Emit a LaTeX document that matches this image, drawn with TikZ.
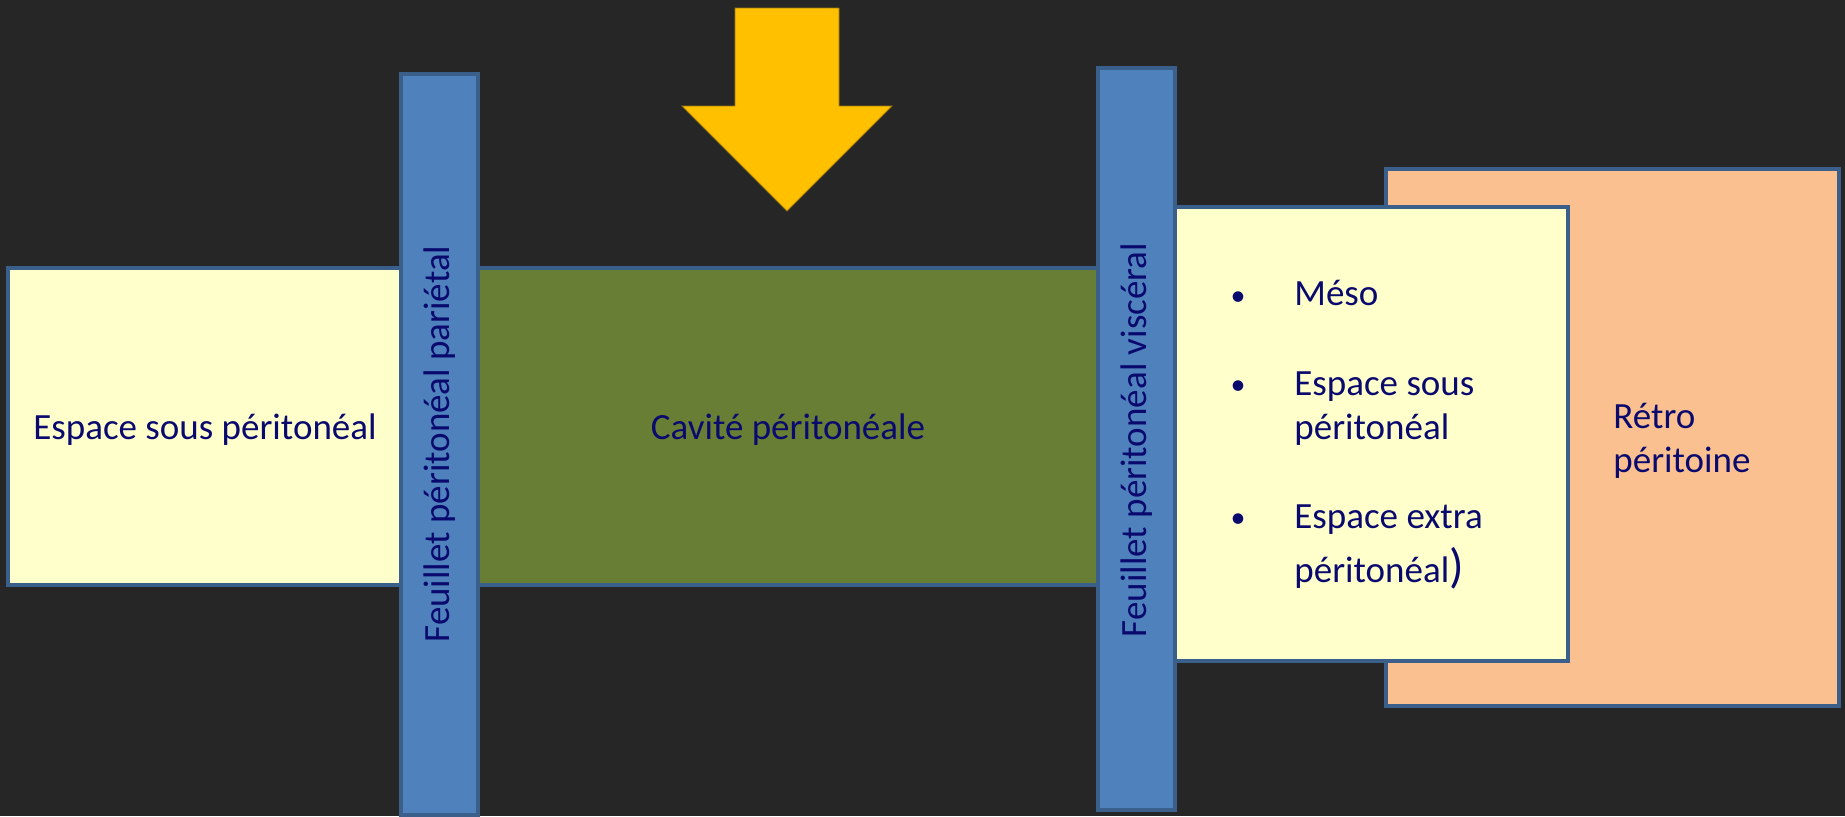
\documentclass[tikz,border=0pt]{standalone}
\usepackage{fontspec}
\setmainfont{Carlito}
\definecolor{bg}{HTML}{262626}
\definecolor{pale}{HTML}{FFFFCC}
\definecolor{olive}{HTML}{677E34}
\definecolor{barblue}{HTML}{4F81BD}
\definecolor{edge}{HTML}{3A5F8B}
\definecolor{peach}{HTML}{FAC090}
\definecolor{gold}{HTML}{FFC000}
\definecolor{golddark}{HTML}{9C7A10}
\definecolor{navy}{HTML}{0A0A6E}
\begin{document}
\begin{tikzpicture}[x=0.5pt,y=-0.5pt,
  boxdraw/.style={draw=edge,line width=2pt},
  lbl/.style={text=navy,font=\fontsize{18.5}{22}\selectfont,inner sep=0pt},
  bul/.style={text=navy,font=\fontsize{15}{18}\selectfont,inner sep=0pt},
  vlbl/.style={lbl,rotate=90}]
\fill[bg] (0,0) rectangle (1845,816);
\useasboundingbox (0,0) rectangle (1845,816);
% arrow
\filldraw[fill=gold,draw=golddark,line width=0.4pt] (735,8) -- (839,8) -- (839,106) -- (892,106) -- (787,211) -- (682,106) -- (735,106) -- cycle;
% left space
\filldraw[boxdraw,fill=pale] (8,268) rectangle (402,585);
\node[lbl] (espace) at (205,430) {Espace sous péritonéal};
% cavity
\filldraw[boxdraw,fill=olive] (470,268) rectangle (1105,585);
\node[lbl] (cavite) at (788,430) {Cavité péritonéale};
% left bar
\filldraw[boxdraw,fill=barblue] (401,74) rectangle (478,815);
\node[vlbl] (parietal) at (439.5,444) {Feuillet péritonéal pariétal};
% retro
\filldraw[boxdraw,fill=peach] (1386,169) rectangle (1839,706);
\node[lbl,anchor=mid west] (retro1) at (1613,424) {Rétro};
\node[lbl,anchor=mid west] (retro2) at (1613,468) {péritoine};
% right yellow
\filldraw[boxdraw,fill=pale] (1170,207) rectangle (1568,661);
\node[bul] (b1) at (1238,299) {•};
\node[lbl,anchor=mid west] (meso) at (1294,301) {Méso};
\node[bul] (b2) at (1238,388) {•};
\node[lbl,anchor=mid west] (ess1) at (1294,391) {Espace sous};
\node[lbl,anchor=mid west] (ess2) at (1294,435) {péritonéal};
\node[bul] (b3) at (1238,521) {•};
\node[lbl,anchor=mid west] (ext1) at (1294,524) {Espace extra};
\node[lbl,anchor=mid west] (ext2) at (1294,578) {péritonéal{\fontsize{24}{28}\selectfont)}};
% right bar
\filldraw[boxdraw,fill=barblue] (1098,68) rectangle (1175,810);
\node[vlbl] (visceral) at (1136.5,440) {Feuillet péritonéal viscéral};
\end{tikzpicture}
\end{document}
